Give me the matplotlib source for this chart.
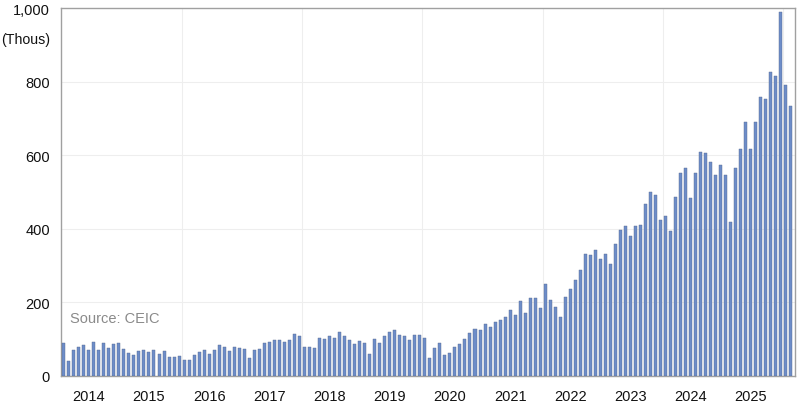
import numpy as np
import matplotlib
matplotlib.use("Agg")
import matplotlib.pyplot as plt

# monthly values (thousands), Jan 2014 .. Feb 2026
v2014 = [89, 42, 72, 79, 85, 70, 92, 72, 90, 76, 87, 91]
v2015 = [74, 63, 57, 67, 70, 65, 70, 59, 67, 51, 51, 55]
v2016 = [44, 44, 57, 64, 72, 61, 72, 84, 79, 69, 80, 77]
v2017 = [73, 49, 70, 74, 89, 92, 99, 99, 93, 98, 115, 108]
v2018 = [79, 79, 75, 103, 101, 108, 104, 120, 110, 99, 87, 94]
v2019 = [90, 59, 101, 90, 108, 120, 126, 111, 108, 99, 111, 111]
v2020 = [102, 49, 76, 89, 57, 62, 80, 86, 101, 117, 127, 126]
v2021 = [141, 134, 146, 151, 161, 179, 167, 203, 171, 212, 212, 185]
v2022 = [251, 206, 187, 160, 214, 236, 262, 288, 331, 329, 343, 317]
v2023 = [333, 305, 358, 398, 408, 380, 408, 412, 467, 500, 492, 423]
v2024 = [435, 393, 486, 553, 566, 483, 551, 608, 607, 583, 547, 573]
v2025 = [548, 420, 566, 618, 692, 616, 691, 760, 753, 826, 816, 990]
v2026 = [792, 733]
year_labels = [str(y) for y in range(2014, 2026)]
y_ticks = [0, 200, 400, 600, 800, 1000]

values = (v2014 + v2015 + v2016 + v2017 + v2018 + v2019 + v2020 + v2021
          + v2022 + v2023 + v2024 + v2025 + v2026)
x = np.arange(len(values))

plt.rcParams["font.family"] = ["Liberation Sans", "DejaVu Sans"]
fig = plt.figure(figsize=(8, 4.1), dpi=100)
ax = fig.add_axes([61 / 800, 33 / 410, 734 / 800, 367.7 / 410])

ax.bar(x, values, width=0.6, color="#6d8dc9", edgecolor="#56698f", linewidth=0.3, zorder=3)

ax.set_xlim(-0.54, 145.8)
ax.set_ylim(0, 1000)
ax.set_yticks(y_ticks)
ax.set_yticklabels([f"{t:,}" for t in y_ticks])
ax.set_xticks(np.arange(len(year_labels)) * 12 + 5)
ax.set_xticklabels(year_labels)
ax.tick_params(axis="both", length=0, labelsize=10.5, colors="#111111")
ax.tick_params(axis="x", pad=9.5)
ax.tick_params(axis="y", pad=8)

for yv in y_ticks[1:-1]:
    ax.axhline(yv, color="#eeeeee", lw=0.8, zorder=1)
for xv in np.arange(23.5, len(values), 24):
    ax.axvline(xv, color="#eeeeee", lw=0.8, zorder=1)

for s in ax.spines.values():
    s.set_color("#a0a0a0")
    s.set_linewidth(1)

ax.text(-0.015, 0.917, "(Thous)", transform=ax.transAxes, ha="right", va="center",
        fontsize=10.2, color="#111111")
ax.text(0.012, 0.158, "Source: CEIC", transform=ax.transAxes, ha="left", va="center",
        fontsize=10.5, color="#8a8a8a")

fig.savefig("out.png", dpi=100)
